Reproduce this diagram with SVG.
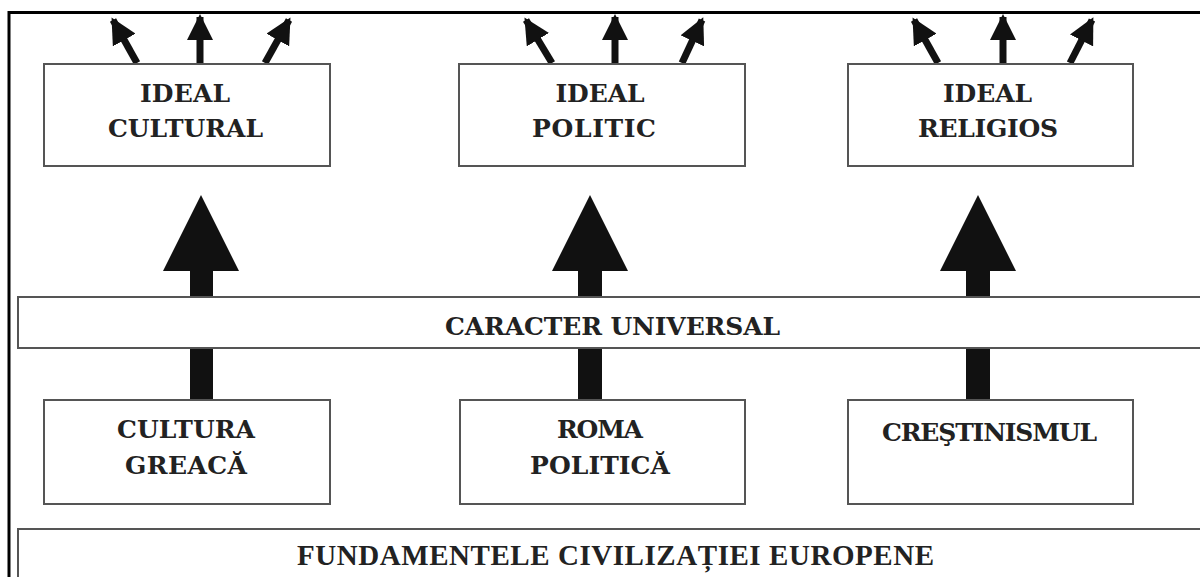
<svg xmlns="http://www.w3.org/2000/svg" width="1200" height="577" viewBox="0 0 1200 577">
<style>
.box{fill:#fff;stroke:#555;stroke-width:2}
.t{font-family:"DejaVu Serif","Liberation Serif",serif;font-weight:bold;font-size:25px;fill:#222;text-anchor:middle}
.f{font-family:"Liberation Serif","DejaVu Serif",serif;font-weight:bold;font-size:29px;fill:#222;text-anchor:middle}
.sm{stroke:#111;stroke-width:7;fill:none}
.big{fill:#111}
</style>
<defs>
<marker id="ah" markerUnits="userSpaceOnUse" markerWidth="27" markerHeight="26" viewBox="0 0 27 26" refX="23" refY="13" orient="auto">
<path d="M0,0 L26,13 L0,26 Z" fill="#111"/>
</marker>
</defs>
<rect width="1200" height="577" fill="#fff"/>
<path d="M9,577 V12.5 H1200" fill="none" stroke="#000" stroke-width="3"/>

<g id="connectors">
<line class="sm" x1="137" y1="63" x2="113" y2="20" marker-end="url(#ah)"/>
<line class="sm" x1="200" y1="63" x2="200" y2="17" marker-end="url(#ah)"/>
<line class="sm" x1="265" y1="63" x2="289" y2="20" marker-end="url(#ah)"/>
<line class="sm" x1="552" y1="63" x2="526" y2="20" marker-end="url(#ah)"/>
<line class="sm" x1="615" y1="63" x2="615" y2="17" marker-end="url(#ah)"/>
<line class="sm" x1="682" y1="63" x2="702" y2="20" marker-end="url(#ah)"/>
<line class="sm" x1="938" y1="63" x2="914" y2="20" marker-end="url(#ah)"/>
<line class="sm" x1="1003" y1="63" x2="1003" y2="17" marker-end="url(#ah)"/>
<line class="sm" x1="1070" y1="63" x2="1092" y2="20" marker-end="url(#ah)"/>
<path class="big" d="M201,195 L239,271 L213,271 L213,297 L190,297 L190,271 L163,271 Z"/>
<path class="big" d="M590,195 L628,271 L602,271 L602,297 L578,297 L578,271 L552,271 Z"/>
<path class="big" d="M978,195 L1016,271 L990,271 L990,297 L966,297 L966,271 L940,271 Z"/>
<rect class="big" x="190" y="348" width="23" height="52"/>
<rect class="big" x="578" y="348" width="24" height="52"/>
<rect class="big" x="966" y="348" width="24" height="52"/>
</g>

<g id="ideal-cultural">
<rect class="box" x="44" y="64" width="286" height="102"/>
<text class="t" x="185" y="102" textLength="90" lengthAdjust="spacing">IDEAL</text>
<text class="t" x="185.5" y="137" textLength="155" lengthAdjust="spacing">CULTURAL</text>
</g>
<g id="ideal-politic">
<rect class="box" x="459" y="64" width="286" height="102"/>
<text class="t" x="600" y="102" textLength="89" lengthAdjust="spacing">IDEAL</text>
<text class="t" x="594" y="137" textLength="124" lengthAdjust="spacing">POLITIC</text>
</g>
<g id="ideal-religios">
<rect class="box" x="848" y="64" width="285" height="102"/>
<text class="t" x="987.5" y="102" textLength="89" lengthAdjust="spacing">IDEAL</text>
<text class="t" x="988" y="137" textLength="140" lengthAdjust="spacing">RELIGIOS</text>
</g>
<g id="caracter-universal">
<rect class="box" x="18" y="297" width="1190" height="51"/>
<text class="t" x="612.5" y="335" textLength="335" lengthAdjust="spacing">CARACTER UNIVERSAL</text>
</g>
<g id="cultura-greaca">
<rect class="box" x="44" y="400" width="286" height="104"/>
<text class="t" x="186" y="438" textLength="138" lengthAdjust="spacing">CULTURA</text>
<text class="t" x="186" y="474" textLength="122" lengthAdjust="spacing">GREACĂ</text>
</g>
<g id="roma-politica">
<rect class="box" x="460" y="400" width="285" height="104"/>
<text class="t" x="600" y="438" textLength="86" lengthAdjust="spacing">ROMA</text>
<text class="t" x="600" y="474" textLength="140" lengthAdjust="spacing">POLITICĂ</text>
</g>
<g id="crestinismul">
<rect class="box" x="848" y="400" width="285" height="104"/>
<text class="t" x="989.5" y="441" textLength="215" lengthAdjust="spacing">CREŞTINISMUL</text>
</g>
<g id="fundamentele">
<rect class="box" x="18" y="529" width="1190" height="60"/>
<text class="f" x="615.5" y="565" textLength="637" lengthAdjust="spacing">FUNDAMENTELE CIVILIZAȚIEI EUROPENE</text>
</g>
</svg>
